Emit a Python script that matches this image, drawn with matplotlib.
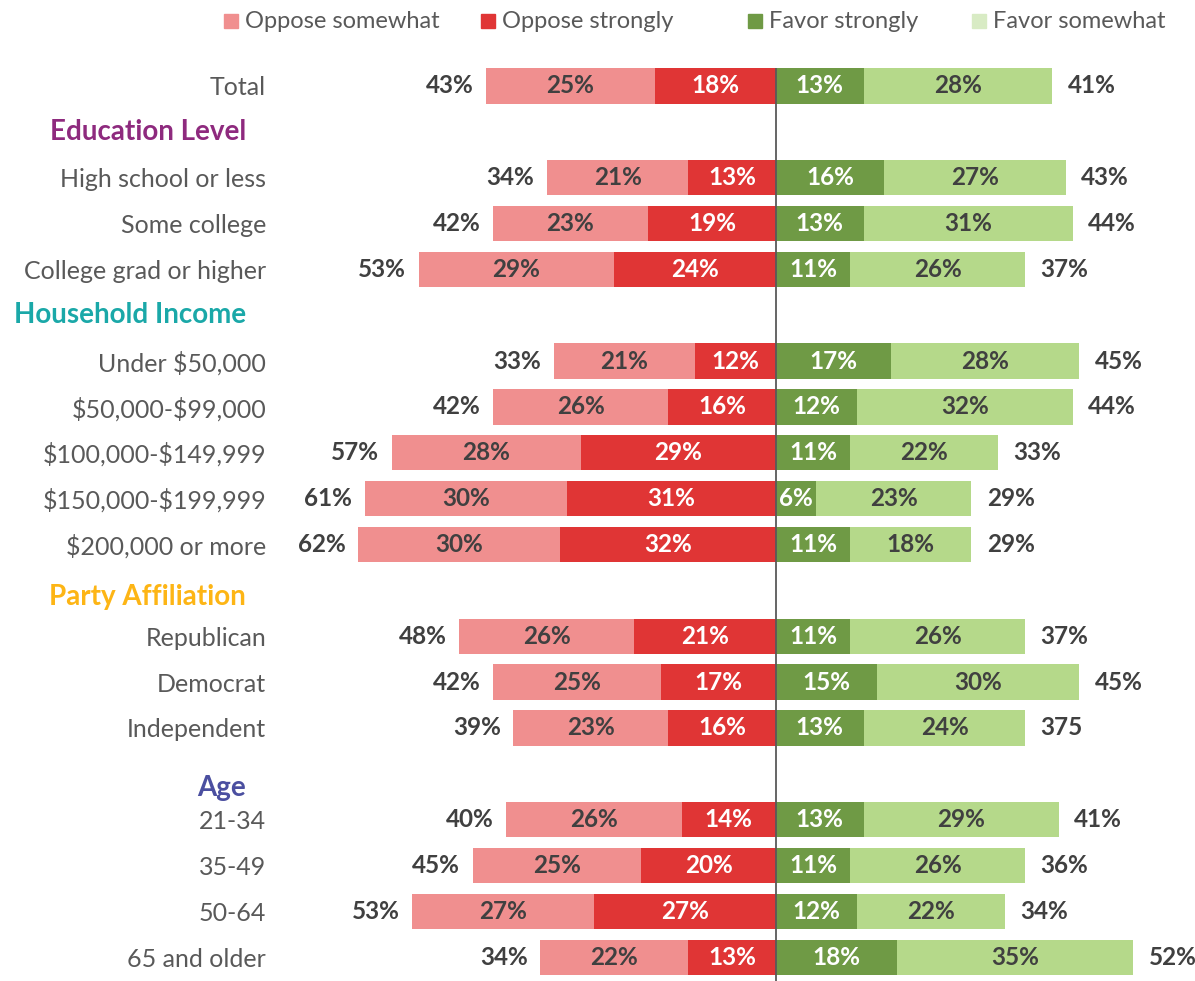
import numpy as np
import matplotlib.pyplot as plt
from matplotlib import transforms
from matplotlib.patches import Rectangle

plt.rcParams['font.family'] = ['Lato', 'DejaVu Sans']
plt.rcParams['text.parse_math'] = False

# data (percent)
categories = ['Total', 'High school or less', 'Some college', 'College grad or higher',
              'Under $50,000', '$50,000-$99,000', '$100,000-$149,999', '$150,000-$199,999',
              '$200,000 or more', 'Republican', 'Democrat', 'Independent',
              '21-34', '35-49', '50-64', '65 and older']
oppose_somewhat = [25, 21, 23, 29, 21, 26, 28, 30, 30, 26, 25, 23, 26, 25, 27, 22]
oppose_strongly = [18, 13, 19, 24, 12, 16, 29, 31, 32, 21, 17, 16, 14, 20, 27, 13]
favor_strongly = [13, 16, 13, 11, 17, 12, 11, 6, 11, 11, 15, 13, 13, 11, 12, 18]
favor_somewhat = [28, 27, 31, 26, 28, 32, 22, 23, 18, 26, 30, 24, 29, 26, 22, 35]
oppose_total = ['43%', '34%', '42%', '53%', '33%', '42%', '57%', '61%', '62%',
                '48%', '42%', '39%', '40%', '45%', '53%', '34%']
favor_total = ['41%', '43%', '44%', '37%', '45%', '44%', '33%', '29%', '29%',
               '37%', '45%', '375', '41%', '36%', '34%', '52%']

groups = ['Education Level', 'Household Income', 'Party Affiliation', 'Age']
group_start = [1, 4, 9, 12]   # index of first category in each group
group_colors = ['#8E2A7E', '#1AA8A8', '#FDB515', '#4B4FA0']
group_nudge = [0, 0, 0.15, 0.3]  # headings sit a little low in the original

legend_labels = ['Oppose somewhat', 'Oppose strongly', 'Favor strongly', 'Favor somewhat']

c_os = '#F08F8F'
c_ost = '#E03535'
c_fst = '#6F9A45'
c_fsw = '#B5D98A'
txt_gray = '#595959'
val_dark = '#404040'

# row slots, one extra slot before each group for its heading
row_y = []
head_y = []
slot = 0
for i in range(len(categories)):
    if i in group_start:
        head_y.append(slot)
        slot += 1
    row_y.append(slot)
    slot += 1
row_y = np.array(row_y)

os_ = np.array(oppose_somewhat)
ost = np.array(oppose_strongly)
fst = np.array(favor_strongly)
fsw = np.array(favor_somewhat)

W, H = 1195, 981
fig = plt.figure(figsize=(W / 100, H / 100), dpi=100)
ax = fig.add_axes([280 / W, 0, 915 / W, 1 - 55 / H])

h = 0.77
b1 = ax.barh(row_y, -os_, left=-ost, height=h, color=c_os)
b2 = ax.barh(row_y, -ost, height=h, color=c_ost)
b3 = ax.barh(row_y, fst, height=h, color=c_fst)
b4 = ax.barh(row_y, fsw, left=fst, height=h, color=c_fsw)

fs_val = 17.5
ax.bar_label(b1, labels=[f'{v}%' for v in os_], label_type='center',
             color=val_dark, fontsize=fs_val, fontweight='bold')
ax.bar_label(b2, labels=[f'{v}%' for v in ost], label_type='center',
             color='white', fontsize=fs_val, fontweight='bold')
ax.bar_label(b3, labels=[f'{v}%' for v in fst], label_type='center',
             color='white', fontsize=fs_val, fontweight='bold')
ax.bar_label(b4, labels=[f'{v}%' for v in fsw], label_type='center',
             color=val_dark, fontsize=fs_val, fontweight='bold')

for i, y in enumerate(row_y):
    ax.annotate(oppose_total[i], (-(os_[i] + ost[i]), y), xytext=(-9, 0),
                textcoords='offset points', ha='right', va='center',
                color=val_dark, fontsize=fs_val, fontweight='bold')
    ax.annotate(favor_total[i], (fst[i] + fsw[i], y), xytext=(11, 0),
                textcoords='offset points', ha='left', va='center',
                color=val_dark, fontsize=fs_val, fontweight='bold')

ax.vlines(0, -0.4, 19.6, color='#595959', lw=1.3, zorder=3)

ax.set_xlim((280 - 776) / 6.74, (1195 - 776) / 6.74)
ax.set_ylim(19.52, -0.676)
ax.set_yticks(row_y, categories)
ax.tick_params(axis='y', length=0, pad=10, labelsize=18, labelcolor=txt_gray)
ax.set_xticks([])
for s in ax.spines.values():
    s.set_visible(False)

# group headings
trans = transforms.blended_transform_factory(fig.transFigure, ax.transData)
for g, y, c, n in zip(groups, head_y, group_colors, group_nudge):
    ax.text(246 / W, y + n, g, transform=trans, ha='right', va='center',
            color=c, fontsize=20, fontweight='bold')

# legend drawn by hand: the gaps between entries are uneven in the original
leg_x = [224, 481, 748, 972]
leg_colors = [c_os, c_ost, c_fst, '#D8EBC4']
for lab, x, c in zip(legend_labels, leg_x, leg_colors):
    fig.patches.append(Rectangle((x / W, 1 - 28 / H), 14 / W, 14 / H,
                                 transform=fig.transFigure, color=c))
    fig.text((x + 21) / W, 1 - 22 / H, lab, ha='left', va='center',
             fontsize=17, color=txt_gray)

fig.savefig('out.png', dpi=100)
